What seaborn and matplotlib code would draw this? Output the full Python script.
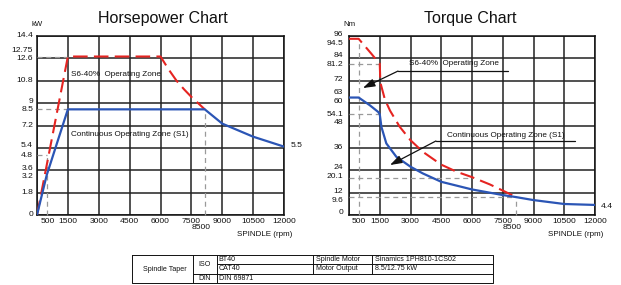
import numpy as np
import pandas as pd
import matplotlib
matplotlib.use("Agg")
import matplotlib.pyplot as plt
import seaborn as sns
from matplotlib import transforms

# ---------------- data ----------------
hp_title = "Horsepower Chart"
tq_title = "Torque Chart"

# Horsepower chart (kW vs rpm)
hp_s6_rpm = [0, 1500, 6000, 6400, 6780, 7150, 7500, 8150]
hp_s6_kw = [0, 12.75, 12.75, 11.7, 10.8, 10.1, 9.5, 8.5]
hp_s1_rpm = [0, 470, 1500, 8150, 9000, 10500, 12000]
hp_s1_kw = [0, 3.2, 8.5, 8.5, 7.35, 6.3, 5.5]

hp_ylabels = ["14.4", "12.75", "12.6", "10.8", "9", "8.5", "7.2", "5.4", "4.8", "3.6", "3.2", "1.8", "0"]
hp_grid_y = [0, 1.8, 3.6, 5.4, 7.2, 9, 10.8, 12.6, 14.4]

# Torque chart (Nm vs rpm)
tq_s6_rpm = [0, 470, 1090, 1420, 1500, 1530, 1750, 2000, 2475, 3000, 3600, 4500, 5250, 6000, 6870, 7520, 8150]
tq_s6_nm = [94.5, 94.5, 86.5, 82.1, 81.2, 71.0, 62.0, 56.0, 47.3, 40.1, 33.9, 27.0, 23.2, 20.3, 16.4, 13.0, 9.6]
tq_s1_rpm = [0, 470, 1010, 1420, 1500, 1580, 1820, 2310, 3000, 3600, 4500, 6000, 7500, 8150, 9000, 10500, 12000]
tq_s1_nm = [63, 63, 58.9, 55.3, 54.1, 47.3, 38.4, 31.2, 25.9, 22.3, 17.8, 13.7, 10.7, 9.6, 8.0, 5.9, 5.4]

tq_ylabels = ["96", "94.5", "84", "81.2", "72", "63", "60", "54.1", "48", "36", "24", "20.1", "12", "9.6", "0"]
tq_grid_y = [0, 12, 24, 36, 48, 60, 72, 84, 96]

x_grid = [0, 1500, 3000, 4500, 6000, 7500, 9000, 10500, 12000]
x_labels = ["500", "1500", "3000", "4500", "6000", "7500", "8500", "9000", "10500", "12000"]

hp_end_label = "5.5"
tq_end_label = "4.4"

table_rows = [
    ["Spindle Taper", "ISO", "BT40", "Spindle Motor", "Sinamics 1PH810-1CS02"],
    ["", "", "CAT40", "Motor Output", "8.5/12.75 kW"],
    ["", "DIN", "DIN 69871", "", ""],
]

# ---------------- style ----------------
sns.set_theme(style="white")
plt.rcParams["font.family"] = ["Liberation Sans", "DejaVu Sans"]

RED = "#e52421"
BLUE = "#2b55b5"
GRAY = "#9a9a9a"
INK = "#111111"
W, H = 621, 285

fig = plt.figure(figsize=(W / 100, H / 100), dpi=100)
fig.patch.set_facecolor("white")


def px_axes(x0, y0, x1, y1):
    return fig.add_axes([x0 / W, 1 - y1 / H, (x1 - x0) / W, (y1 - y0) / H])


ax1 = px_axes(37, 36, 284, 215)
ax2 = px_axes(349, 36, 595, 215)

TICK_FS = 6.1
ANN_FS = 5.9
TITLE_FS = 11.5


def setup(ax, ymax, grid_y):
    ax.set_xlim(0, 12000)
    ax.set_ylim(0, ymax)
    ax.set_xticks(x_grid)
    ax.set_yticks(grid_y)
    ax.set_xticklabels([])
    ax.set_yticklabels([])
    ax.tick_params(length=0)
    ax.grid(True, color="#222222", lw=1.1)
    for s in ax.spines.values():
        s.set_color("#111111")
        s.set_linewidth(1.1)
    ax.set_xlabel("")
    ax.set_ylabel("")


def ylabels(ax, labels, pad, offsets):
    for lab in labels:
        v = float(lab)
        dy = offsets.get(lab, 0)
        tr = transforms.blended_transform_factory(ax.transAxes, ax.transData) + \
            transforms.ScaledTranslation(-pad / 100, dy / 100, fig.dpi_scale_trans)
        ax.text(0, v, lab, transform=tr, ha="right", va="center", fontsize=TICK_FS,
                color=INK, clip_on=False)


def xlabels(ax):
    for lab in x_labels:
        v = float(lab)
        dx, dy = (0, -3)
        if lab == "8500":
            dx, dy = (-11, -9)
        tr = transforms.blended_transform_factory(ax.transData, ax.transAxes) + \
            transforms.ScaledTranslation(dx / 100, dy / 100, fig.dpi_scale_trans)
        ax.text(v, 0, lab, transform=tr, ha="center", va="top", fontsize=TICK_FS,
                color=INK, clip_on=False)
    ax.text(1.035, -0.09, "SPINDLE (rpm)", transform=ax.transAxes, ha="right", va="top",
            fontsize=5.8, color=INK, clip_on=False)


def dashed(ax, xs, ys):
    ax.plot(xs, ys, color=GRAY, lw=0.9, ls=(0, (4, 3)), zorder=3, clip_on=False)


# ---------- Horsepower chart ----------
setup(ax1, 14.4, hp_grid_y)
dashed(ax1, [0, 1500], [12.75, 12.75])
dashed(ax1, [0, 1500], [8.5, 8.5])
dashed(ax1, [0, 500], [4.8, 4.8])
dashed(ax1, [470, 470], [0, 4.8])
dashed(ax1, [8150, 8150], [0, 8.5])

df_hp6 = pd.DataFrame({"rpm": hp_s6_rpm, "kw": hp_s6_kw})
df_hp1 = pd.DataFrame({"rpm": hp_s1_rpm, "kw": hp_s1_kw})
sns.lineplot(data=df_hp6, x="rpm", y="kw", ax=ax1, color=RED, lw=1.5, sort=False,
             estimator=None, linestyle=(0, (7, 3)), zorder=4)
sns.lineplot(data=df_hp1, x="rpm", y="kw", ax=ax1, color=BLUE, lw=1.6, sort=False,
             estimator=None, zorder=5)
setup(ax1, 14.4, hp_grid_y)
ylabels(ax1, hp_ylabels, 4, {"14.4": 1, "12.75": 6.5, "9": 2, "5.4": 2, "4.8": -0.5,
                             "3.6": 2, "3.2": -1.5})
xlabels(ax1)
ax1.text(1650, 11.3, "S6-40%  Operating Zone", fontsize=ANN_FS, va="center", ha="left", color=INK)
ax1.text(1650, 6.45, "Continuous Operating Zone (S1)", fontsize=ANN_FS, va="center", ha="left", color=INK)
ax1.text(1.025, 5.6, hp_end_label, transform=transforms.blended_transform_factory(ax1.transAxes, ax1.transData),
         fontsize=TICK_FS, va="center", ha="left", color=INK)
fig.text(163 / W, 1 - 19 / H, hp_title, ha="center", va="center", fontsize=TITLE_FS, color=INK)
fig.text(31 / W, 1 - 25 / H, "kW", ha="left", va="center", fontsize=5.6, color=INK)

# ---------- Torque chart ----------
setup(ax2, 96, tq_grid_y)
dashed(ax2, [470, 470], [0, 92])
dashed(ax2, [0, 1500], [81.2, 81.2])
dashed(ax2, [0, 1500], [54.1, 54.1])
dashed(ax2, [0, 6000], [20.1, 20.1])
dashed(ax2, [0, 8150], [9.6, 9.6])
dashed(ax2, [8150, 8150], [0, 9.6])

df_tq6 = pd.DataFrame({"rpm": tq_s6_rpm, "nm": tq_s6_nm})
df_tq1 = pd.DataFrame({"rpm": tq_s1_rpm, "nm": tq_s1_nm})
sns.lineplot(data=df_tq6, x="rpm", y="nm", ax=ax2, color=RED, lw=1.5, sort=False,
             estimator=None, linestyle=(0, (7, 3)), zorder=4)
sns.lineplot(data=df_tq1, x="rpm", y="nm", ax=ax2, color=BLUE, lw=1.6, sort=False,
             estimator=None, zorder=5)
setup(ax2, 96, tq_grid_y)
ylabels(ax2, tq_ylabels, 6, {"96": 1.5, "94.5": -5, "84": 2.4, "81.2": -1.4, "72": 0.8,
                             "63": 4.8, "60": 1.3, "48": 2.5, "24": 2.3, "20.1": 0.8,
                             "12": 1.0, "9.6": -3, "0": 2})
xlabels(ax2)

# annotations with leader lines
ax2.text(2950, 81.5, "S6-40%  Operating Zone", fontsize=ANN_FS, va="center", ha="left", color=INK)
ax2.plot([2390, 7750], [77.2, 77.2], color=INK, lw=0.9, zorder=6)
ax2.annotate("", xy=(680, 68.1), xytext=(2390, 77.2),
             arrowprops=dict(arrowstyle="-|>,head_length=0.6,head_width=0.2", color=INK, lw=0.9,
                             shrinkA=0, shrinkB=0), zorder=6)
ax2.text(4780, 42.9, "Continuous Operating Zone (S1)", fontsize=ANN_FS, va="center", ha="left", color=INK)
ax2.plot([4240, 11020], [39.7, 39.7], color=INK, lw=0.9, zorder=6)
ax2.annotate("", xy=(2000, 26.8), xytext=(4240, 39.7),
             arrowprops=dict(arrowstyle="-|>,head_length=0.6,head_width=0.2", color=INK, lw=0.9,
                             shrinkA=0, shrinkB=0), zorder=6)
ax2.text(1.025, 4.4, tq_end_label, transform=transforms.blended_transform_factory(ax2.transAxes, ax2.transData),
         fontsize=TICK_FS, va="center", ha="left", color=INK)
fig.text(470 / W, 1 - 19 / H, tq_title, ha="center", va="center", fontsize=TITLE_FS, color=INK)
fig.text(343 / W, 1 - 25 / H, "Nm", ha="left", va="center", fontsize=5.6, color=INK)

# ---------- table ----------
tx0, ty0, tx1, ty1 = 132, 255, 493, 283.3
tab = px_axes(tx0, ty0, tx1, ty1)
tab.set_xlim(tx0, tx1)
tab.set_ylim(ty1, ty0)
tab.axis("off")
cols = [132, 192.5, 216.7, 313, 371.7, 493]
rows = [255, 264.3, 273.7, 283.3]
LW = 0.7
k = INK
tab.plot([tx0, tx1, tx1, tx0, tx0], [ty0, ty0, ty1, ty1, ty0], color=k, lw=LW, clip_on=False)
tab.plot([cols[1], cols[1]], [ty0, ty1], color=k, lw=LW)
tab.plot([cols[2], cols[2]], [ty0, ty1], color=k, lw=LW)
tab.plot([cols[3], cols[3]], [rows[0], rows[2]], color=k, lw=LW)
tab.plot([cols[4], cols[4]], [rows[0], rows[2]], color=k, lw=LW)
tab.plot([cols[2], cols[5]], [rows[1], rows[1]], color=k, lw=LW)
tab.plot([cols[1], cols[5]], [rows[2], rows[2]], color=k, lw=LW)
TFS = 5.1
tab.text(143, (rows[0] + rows[3]) / 2, table_rows[0][0], fontsize=TFS, va="center", ha="left", color=k)
tab.text((cols[1] + cols[2]) / 2, (rows[0] + rows[2]) / 2, table_rows[0][1], fontsize=TFS, va="center", ha="center", color=k)
tab.text((cols[1] + cols[2]) / 2, (rows[2] + rows[3]) / 2, table_rows[2][1], fontsize=TFS, va="center", ha="center", color=k)
for r in range(3):
    yc = (rows[r] + rows[r + 1]) / 2
    for c, xs in ((2, cols[2] + 2), (3, cols[3] + 3), (4, cols[4] + 3)):
        t = table_rows[r][c]
        if t:
            tab.text(xs, yc, t, fontsize=TFS, va="center", ha="left", color=k)

fig.savefig("out.png", dpi=100, facecolor="white")
